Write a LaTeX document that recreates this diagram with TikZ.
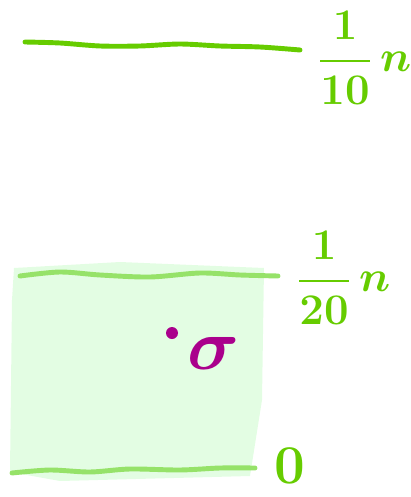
\documentclass[tikz,border=0pt]{standalone}
\usepackage{amsmath, amssymb}
\usetikzlibrary{positioning}
\definecolor{levelgreen}{RGB}{102,204,0}
\definecolor{bandgreen}{RGB}{150,226,105}
\definecolor{fillgreen}{RGB}{227,253,227}
\definecolor{pointmagenta}{RGB}{170,0,140}

\begin{document}
\begin{tikzpicture}[x=0.02cm, y=-0.02cm,
	level/.style={line width=2.8pt, line cap=round, levelgreen},
	lbl/.style={font=\fontsize{23}{27}\selectfont\boldmath, levelgreen, inner sep=0pt}]

	\useasboundingbox (0,0) rectangle (410,497);

	% Shaded band
	\fill[fillgreen]
		(14,268) -- (120,262) -- (264,268) -- (262,400) -- (250,476) -- (60,481) -- (10,472) -- (12,300) -- cycle;

	% Levels
	\draw[level]
		plot[smooth] coordinates {(25,42) (60,43) (100,46) (140,46) (180,44) (220,46) (260,47) (300,50)};
	\draw[level, bandgreen]
		plot[smooth] coordinates {(20,276) (60,272) (100,275) (150,277) (200,273) (240,275) (278,276)};
	\draw[level, bandgreen]
		plot[smooth] coordinates {(12,473) (50,470) (90,472) (130,469) (180,470) (220,468) (255,468)};

	% Labels
	\node[lbl, anchor=west] (tenth) at (318,58) {$\dfrac{1}{10}\,n$};
	\node[lbl, anchor=west] (twentieth) at (297,278) {$\dfrac{1}{20}\,n$};
	\node[lbl, scale=1.25] (zero) at (290,466) {$0$};

	% Point
	\node[circle, fill=pointmagenta, inner sep=0pt, minimum size=0.24cm] (pt) at (172,333) {};
	\node[lbl, pointmagenta, scale=1.65] (sigma) at (214,353) {$\sigma$};

\end{tikzpicture}
\end{document}
